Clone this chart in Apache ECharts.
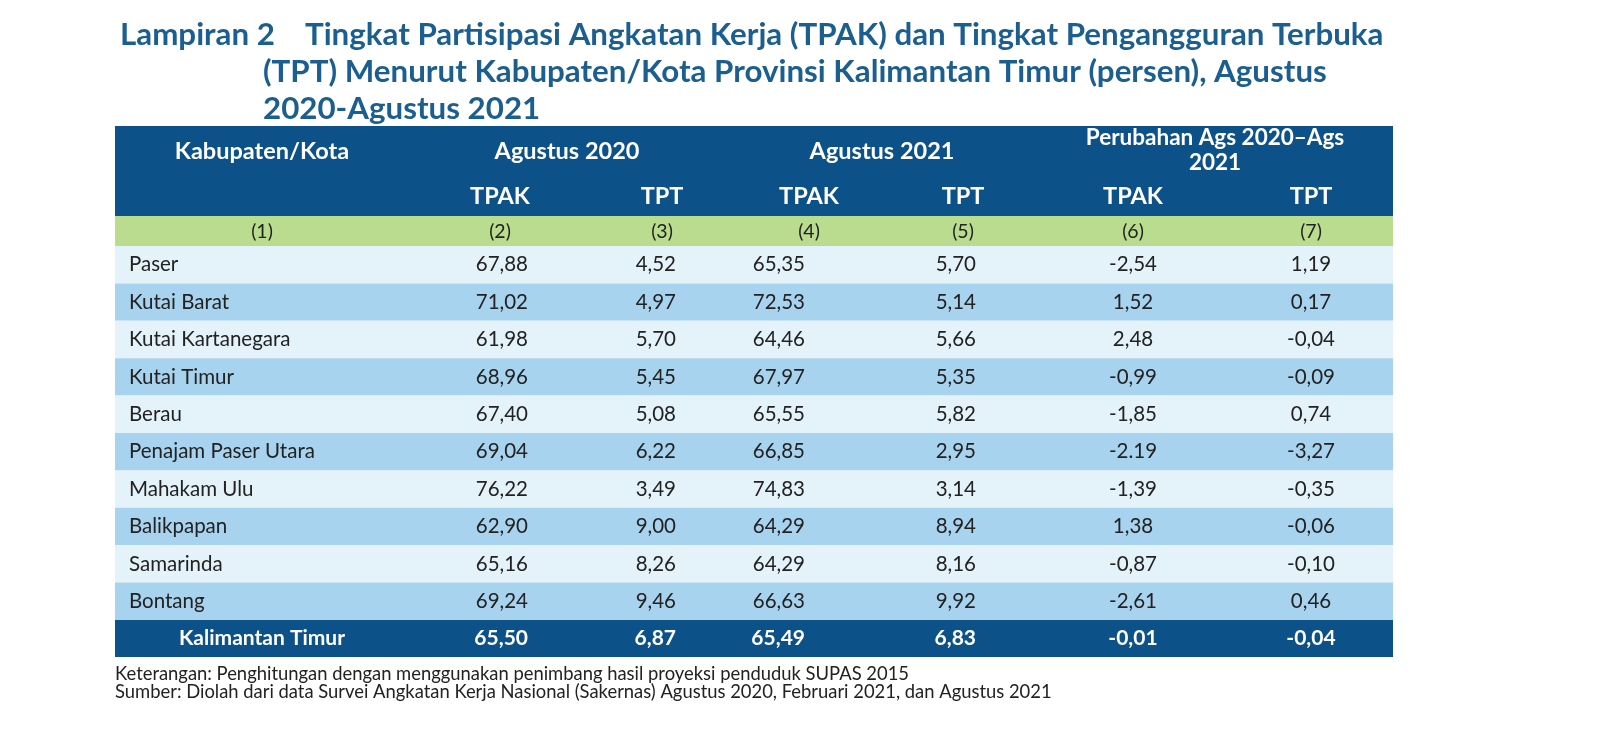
<!DOCTYPE html>
<html>
<head>
<meta charset="utf-8">
<script src="https://cdn.jsdelivr.net/npm/echarts@6/dist/echarts.min.js"></script>
<style>html,body{margin:0;padding:0;background:#fff}#chart{width:1600px;height:738px}</style>
</head>
<body>
<div id="chart"></div>
<script>
// data
var regions = ['Paser','Kutai Barat','Kutai Kartanegara','Kutai Timur','Berau','Penajam Paser Utara','Mahakam Ulu','Balikpapan','Samarinda','Bontang'];
var tpak2020 = ['67,88','71,02','61,98','68,96','67,40','69,04','76,22','62,90','65,16','69,24'];
var tpt2020  = ['4,52','4,97','5,70','5,45','5,08','6,22','3,49','9,00','8,26','9,46'];
var tpak2021 = ['65,35','72,53','64,46','67,97','65,55','66,85','74,83','64,29','64,29','66,63'];
var tpt2021  = ['5,70','5,14','5,66','5,35','5,82','2,95','3,14','8,94','8,16','9,92'];
var dTpak    = ['-2,54','1,52','2,48','-0,99','-1,85','-2.19','-1,39','1,38','-0,87','-2,61'];
var dTpt     = ['1,19','0,17','-0,04','-0,09','0,74','-3,27','-0,35','-0,06','-0,10','0,46'];
var totalName = 'Kalimantan Timur';
var totalRow = ['65,50','6,87','65,49','6,83','-0,01','-0,04'];
var subHeads = ['TPAK','TPT','TPAK','TPT','TPAK','TPT'];
var colNums = ['(1)','(2)','(3)','(4)','(5)','(6)','(7)'];

// layout (pixel space of the grid)
var headAnchor = [262, 500, 662, 809, 963, 1133, 1311];
var valAnchor = [[129,'left'],[528,'right'],[676,'right'],[805,'right'],[976,'right'],[1133,'center'],[1311,'center']];
var dark = '#0d5189', green = '#b9dc8e', light = '#e4f3fa', mid = '#a8d3ee';
var rowTop = 246, rowH = 37.4;

var cells = [];
function cell(x0,y0,x1,y1,fill){
  cells.push({x0:x0,y0:y0,x1:x1,y1:y1,fill:fill});
}
function txt(t,tx,ty,align,color,size,bold,lh){
  cells.push({txt:t,tx:tx,ty:ty,align:align,color:color,size:size,bold:bold,lh:lh});
}
// header rows
cell(115,126,1393,216,dark);
txt('Kabupaten/Kota',262,151,'center','#fff',23.5,true);
txt('Agustus 2020',567,151,'center','#fff',23.5,true);
txt('Agustus 2021',882,151,'center','#fff',23.5,true);
txt('Perubahan Ags 2020\u2013Ags\n2021',1215,150,'center','#fff',22.5,true,25);
subHeads.forEach(function(s,i){txt(s,headAnchor[i+1],196,'center','#fff',23.5,true);});
cell(115,216,1393,246,green);
colNums.forEach(function(s,i){txt(s,headAnchor[i],232,'center','#222',19.5);});
// body
regions.forEach(function(r,i){
  var y0 = rowTop + i*rowH, y1 = y0 + rowH;
  cell(115,y0,1393,y1,i%2?mid:light);
  var vals = [r,tpak2020[i],tpt2020[i],tpak2021[i],tpt2021[i],dTpak[i],dTpt[i]];
  vals.forEach(function(v,c){txt(v,valAnchor[c][0],(y0+y1)/2,valAnchor[c][1],'#222',20.5);});
});
var ty0 = rowTop + regions.length*rowH;
cell(115,ty0,1393,657,dark);
[totalName].concat(totalRow).forEach(function(v,c){
  var a = c===0 ? [262,'center'] : valAnchor[c];
  txt(v,a[0],(ty0+657)/2,a[1],'#fff',21,true);
});

var chart = echarts.init(document.getElementById('chart'));
chart.setOption({
  animation:false,
  grid:{left:0,right:0,top:0,bottom:0},
  xAxis:{type:'value',min:0,max:1600,show:false},
  yAxis:{type:'value',min:0,max:738,inverse:true,show:false},
  graphic:[
    {type:'text',left:120,top:19,style:{text:'Lampiran 2',fill:'#1b5e90',font:'bold 31.3px Lato'}},
    {type:'text',left:305,top:19,style:{text:'Tingkat Partisipasi Angkatan Kerja (TPAK) dan Tingkat Pengangguran Terbuka',fill:'#1b5e90',font:'bold 31.3px Lato'}},
    {type:'text',left:263,top:56,style:{text:'(TPT) Menurut Kabupaten/Kota Provinsi Kalimantan Timur (persen), Agustus',fill:'#1b5e90',font:'bold 31.3px Lato'}},
    {type:'text',left:263,top:93,style:{text:'2020-Agustus 2021',fill:'#1b5e90',font:'bold 31.3px Lato'}},
    {type:'text',left:115,top:665,style:{text:'Keterangan: Penghitungan dengan menggunakan penimbang hasil proyeksi penduduk SUPAS 2015',fill:'#222',font:'18.4px Lato'}},
    {type:'text',left:115,top:683,style:{text:'Sumber: Diolah dari data Survei Angkatan Kerja Nasional (Sakernas) Agustus 2020, Februari 2021, dan Agustus 2021',fill:'#222',font:'18.4px Lato'}}
  ],
  series:[{
    type:'custom',
    coordinateSystem:'cartesian2d',
    data:cells.map(function(c,i){return [i];}),
    renderItem:function(params,api){
      var c = cells[params.dataIndex];
      if (c.fill) {
        var p0 = api.coord([c.x0,c.y0]), p1 = api.coord([c.x1,c.y1]);
        return {type:'rect',shape:{x:p0[0],y:p0[1],width:p1[0]-p0[0],height:p1[1]-p0[1]},style:{fill:c.fill}};
      }
      var pt = api.coord([c.tx,c.ty]);
      return {type:'text',x:pt[0],y:pt[1],z2:10,style:{text:c.txt,fill:c.color,align:c.align,verticalAlign:'middle',
        font:(c.bold?'bold ':'')+c.size+'px Lato',lineHeight:c.lh||c.size*1.2}};
    }
  }]
});
</script>
</body>
</html>
